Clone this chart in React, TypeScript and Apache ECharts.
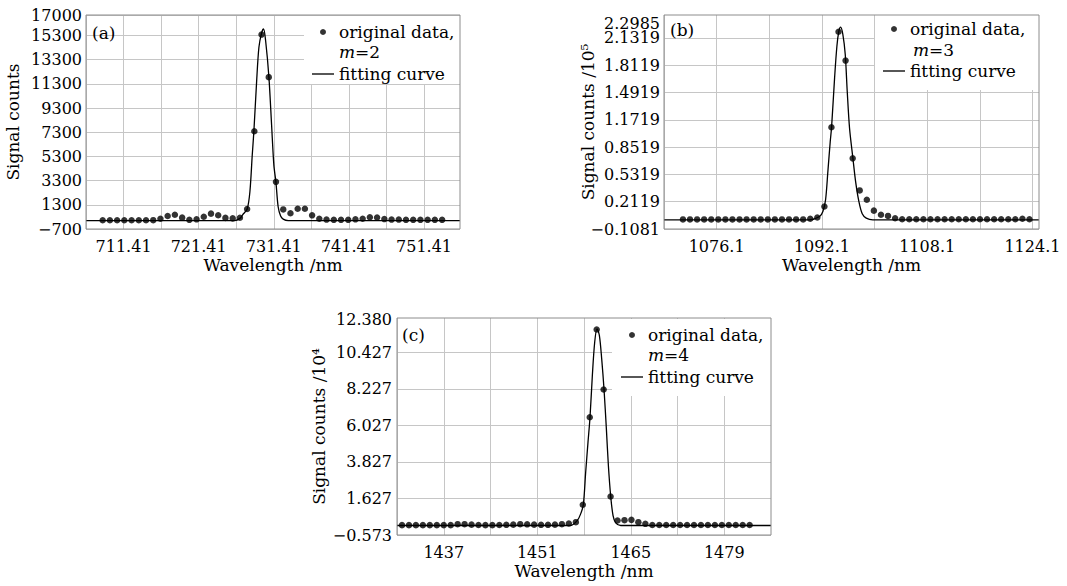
import React, { useEffect, useRef } from 'react';
import * as echarts from 'echarts';

const FONT = 'DejaVu Serif';

// ---------- Panel (a): m = 2 ----------
const waveA = [708.63, 709.59, 710.55, 711.51, 712.48, 713.44, 714.40, 715.36, 716.32, 717.28, 718.24, 719.21, 720.17, 721.13, 722.09, 723.05, 724.01, 724.97, 725.94, 726.90, 727.86, 728.82, 729.78, 730.74, 731.70, 732.67, 733.63, 734.59, 735.55, 736.51, 737.47, 738.43, 739.40, 740.36, 741.32, 742.28, 743.24, 744.20, 745.16, 746.13, 747.09, 748.05, 749.01, 749.97, 750.93, 751.89, 752.85, 753.82];
const countsA = [20, 20, 20, 20, 20, 20, 20, 30, 150, 380, 480, 240, 60, 100, 310, 570, 440, 220, 180, 230, 950, 7380, 15380, 11860, 3200, 920, 600, 970, 970, 430, 150, 80, 60, 60, 60, 100, 150, 270, 250, 120, 80, 80, 60, 60, 60, 60, 60, 60];
const fitWaveA = [706.41, 726.2, 726.9, 727.34, 727.87, 728.23, 728.54, 728.76, 729.12, 729.43, 729.79, 730.05, 730.32, 730.76, 731.12, 731.42, 731.69, 731.99, 732.32, 732.66, 733.33, 756.2];
const fitCountsA = [0, 0, 180, 540, 950, 2380, 5400, 7380, 11450, 14330, 15520, 15850, 14890, 11860, 7880, 4580, 3200, 1140, 370, 120, 0, 0];
const xTicksA = [706.41, 711.41, 716.41, 721.41, 726.41, 731.41, 736.41, 741.41, 746.41, 751.41];
const xLabelsA = [711.41, 721.41, 731.41, 741.41, 751.41];
const yTicksA = [-700, 1300, 3300, 5300, 7300, 9300, 11300, 13300, 15300, 17000];
const yLabelsA = [-700, 1300, 3300, 5300, 7300, 9300, 11300, 13300, 15300, 17000];

// ---------- Panel (b): m = 3 (x10^5) ----------
const waveB = [1070.98, 1072.05, 1073.13, 1074.20, 1075.28, 1076.35, 1077.43, 1078.50, 1079.58, 1080.65, 1081.73, 1082.80, 1083.88, 1084.95, 1086.03, 1087.10, 1088.18, 1089.25, 1090.33, 1091.40, 1092.48, 1093.55, 1094.63, 1095.70, 1096.78, 1097.85, 1098.93, 1100.00, 1101.08, 1102.15, 1103.23, 1104.30, 1105.38, 1106.45, 1107.53, 1108.60, 1109.68, 1110.75, 1111.83, 1112.90, 1113.98, 1115.05, 1116.13, 1117.20, 1118.28, 1119.35, 1120.43, 1121.50, 1122.58, 1123.65];
const countsB = [0.004, 0.004, 0.004, 0.004, 0.004, 0.004, 0.004, 0.004, 0.004, 0.004, 0.004, 0.004, 0.004, 0.004, 0.004, 0.004, 0.004, 0.004, 0.012, 0.027, 0.156, 1.085, 2.203, 1.866, 0.72, 0.344, 0.235, 0.107, 0.059, 0.045, 0.018, 0.006, 0.006, 0.006, 0.006, 0.006, 0.006, 0.006, 0.006, 0.006, 0.006, 0.006, 0.006, 0.006, 0.006, 0.006, 0.006, 0.006, 0.012, 0.006];
const fitWaveB = [1068.1, 1090.2, 1091.75, 1092.25, 1092.66, 1093.01, 1093.37, 1093.57, 1094.03, 1094.38, 1094.68, 1094.94, 1095.29, 1095.65, 1095.95, 1096.30, 1096.81, 1097.22, 1097.72, 1098.23, 1098.84, 1099.85, 1125.1];
const fitCountsB = [0, 0, 0.039, 0.098, 0.235, 0.567, 0.919, 1.083, 1.663, 2.034, 2.21, 2.257, 2.171, 1.937, 1.506, 1.076, 0.724, 0.45, 0.215, 0.07, 0.02, 0, 0];
const xTicksB = [1068.1, 1076.1, 1084.1, 1092.1, 1100.1, 1108.1, 1116.1, 1124.1];
const xLabelsB = [1076.1, 1092.1, 1108.1, 1124.1];
const yTicksB = [-0.1081, 0.2119, 0.5319, 0.8519, 1.1719, 1.4919, 1.8119, 2.1319];
const yLabelsB = [-0.1081, 0.2119, 0.5319, 0.8519, 1.1719, 1.4919, 1.8119, 2.1319];
const yTopLabelB = [2.2985];

// ---------- Panel (c): m = 4 (x10^4) ----------
const waveC = [1430.75, 1431.79, 1432.83, 1433.87, 1434.91, 1435.96, 1437.00, 1438.04, 1439.08, 1440.12, 1441.16, 1442.20, 1443.24, 1444.28, 1445.32, 1446.37, 1447.41, 1448.45, 1449.49, 1450.53, 1451.57, 1452.61, 1453.65, 1454.69, 1455.73, 1456.78, 1457.82, 1458.86, 1459.90, 1460.94, 1461.98, 1463.02, 1464.06, 1465.10, 1466.14, 1467.19, 1468.23, 1469.27, 1470.31, 1471.35, 1472.39, 1473.43, 1474.47, 1475.51, 1476.55, 1477.60, 1478.64, 1479.68, 1480.72, 1481.76, 1482.80];
const countsC = [0.02, 0.02, 0.02, 0.02, 0.02, 0.02, 0.02, 0.02, 0.08, 0.08, 0.05, 0.03, 0.02, 0.02, 0.03, 0.04, 0.05, 0.08, 0.07, 0.05, 0.04, 0.04, 0.05, 0.08, 0.12, 0.20, 1.25, 6.52, 11.81, 8.19, 1.75, 0.30, 0.32, 0.34, 0.20, 0.10, 0.03, 0.03, 0.03, 0.03, 0.03, 0.03, 0.03, 0.03, 0.03, 0.03, 0.03, 0.03, 0.03, 0.03, 0.03];
const fitWaveC = [1430, 1456.0, 1457.0, 1457.5, 1457.9, 1458.25, 1458.6, 1458.9, 1459.25, 1459.6, 1459.95, 1460.3, 1460.65, 1461.0, 1461.35, 1461.65, 1462.0, 1462.35, 1462.75, 1463.5, 1486];
const fitCountsC = [0, 0, 0.30, 0.70, 1.25, 3.21, 5.02, 6.52, 9.04, 11.04, 11.85, 11.45, 10.04, 8.19, 5.82, 3.61, 1.75, 0.60, 0.16, 0, 0];
const xTicksC = [1430, 1437, 1444, 1451, 1458, 1465, 1472, 1479];
const xLabelsC = [1437, 1451, 1465, 1479];
const yTicksC = [-0.573, 1.627, 3.827, 6.027, 8.227, 10.427];
const yLabelsC = [-0.573, 1.627, 3.827, 6.027, 8.227, 10.427, 12.38];

const pairs = (xs: number[], ys: number[]) => xs.map((x, i) => [x, ys[i]]);
const minus = (v: number, digits: number) => (v < -1e-9 ? '\u2212' : '') + Math.abs(v).toFixed(digits);

const LINE_ICON = 'path://M0,0H20V1.2H0Z';

const xAxisBase = (gridIndex: number, min: number, max: number, ticks: number[], labels: number[], digits: number) => ({
  type: 'value',
  gridIndex,
  min,
  max,
  axisLine: { show: false },
  axisTick: { show: false, customValues: ticks },
  splitLine: { show: true, lineStyle: { color: '#c6c6c6', width: 1 } },
  axisLabel: {
    customValues: labels,
    margin: 9,
    fontFamily: FONT,
    fontSize: 16,
    color: '#000',
    formatter: (v: number) => minus(v, digits),
  },
  name: 'Wavelength /nm',
  nameLocation: 'middle',
  nameGap: 27,
  nameMoveOverlap: false,
  nameTextStyle: { fontFamily: FONT, fontSize: 17, color: '#000' },
});

const yAxisBase = (gridIndex: number, min: number, max: number, ticks: number[], labels: number[], digits: number, name: string, nameGap: number, margin: number) => ({
  type: 'value',
  gridIndex,
  position: 'left',
  min,
  max,
  axisLine: { show: false },
  axisTick: { show: false, customValues: ticks },
  splitLine: { show: true, lineStyle: { color: '#c6c6c6', width: 1 } },
  axisLabel: {
    customValues: labels,
    margin,
    fontFamily: FONT,
    fontSize: 16,
    color: '#000',
    formatter: (v: number) => minus(v, digits),
  },
  name,
  nameLocation: 'middle',
  nameGap,
  nameMoveOverlap: false,
  nameTextStyle: { fontFamily: FONT, fontSize: 17, color: '#000' },
});

const legendBase = (left: number, top: number, padBottom: number, padLeft: number, mLabel: string) => ({
  orient: 'vertical',
  left,
  top,
  padding: [6, 14, padBottom, padLeft],
  itemGap: 22,
  itemWidth: 22,
  itemHeight: 6,
  backgroundColor: '#ffffff',
  z: 1,
  selectedMode: false,
  itemStyle: { borderWidth: 0 },
  data: [
    { name: 'original data, ' + mLabel, icon: 'circle' },
    { name: 'fitting curve', icon: LINE_ICON },
  ],
  formatter: (name: string) => (name.indexOf('original') === 0 ? 'original data,' : name),
  textStyle: { fontFamily: FONT, fontSize: 17, color: '#000', lineHeight: 20 },
});

const scatterSeries = (name: string, idx: number, xs: number[], ys: number[]) => ({
  type: 'scatter',
  name,
  xAxisIndex: idx,
  yAxisIndex: idx,
  data: pairs(xs, ys),
  symbol: 'circle',
  symbolSize: 6.5,
  itemStyle: { color: '#000' },
  z: 3,
});

const lineSeries = (idx: number, xs: number[], ys: number[]) => ({
  type: 'line',
  name: 'fitting curve',
  xAxisIndex: idx,
  yAxisIndex: idx,
  data: pairs(xs, ys),
  symbol: 'none',
  showSymbol: false,
  smooth: 0.3,
  lineStyle: { color: '#000', width: 1.3 },
  itemStyle: { color: '#000' },
  z: 2,
});

const textEl = (x: number, y: number, text: string, rich?: boolean) => ({
  type: 'text',
  x,
  y,
  z: 10,
  style: {
    text,
    fontFamily: FONT,
    fontSize: 17,
    fill: '#000',
    verticalAlign: 'middle',
    ...(rich ? { rich: { i: { fontFamily: FONT, fontSize: 17, fontStyle: 'italic', fill: '#000' } } } : {}),
  },
});

const gridBase = (left: number, top: number, width: number, height: number) => ({
  left,
  top,
  width,
  height,
  show: true,
  backgroundColor: 'transparent',
  borderColor: '#8c8c8c',
  borderWidth: 1,
  z: 5,
});

export default function App() {
  const ref = useRef<HTMLDivElement>(null);

  useEffect(() => {
    if (!ref.current) return;
    const chart = echarts.init(ref.current, undefined, { renderer: 'svg' });
    chart.setOption({
      animation: false,
      backgroundColor: '#ffffff',
      grid: [
        gridBase(86, 15, 374, 214),
        gridBase(664, 15, 375, 214),
        gridBase(397, 318, 374, 217),
      ],
      xAxis: [
        xAxisBase(0, 706.41, 756.2, xTicksA, xLabelsA, 2),
        xAxisBase(1, 1068.1, 1125.1, xTicksB, xLabelsB, 1),
        xAxisBase(2, 1430, 1486, xTicksC, xLabelsC, 0),
      ],
      yAxis: [
        yAxisBase(0, -700, 17000, yTicksA, yLabelsA, 0, 'Signal counts', 65, 4),
        yAxisBase(1, -0.1081, 2.4, yTicksB, yLabelsB, 4, 'Signal counts /10\u2075', 68, 4),
        yAxisBase(2, -0.573, 12.5, yTicksC, yLabelsC, 3, 'Signal counts /10\u2074', 70, 5),
        {
          type: 'value',
          gridIndex: 1,
          position: 'left',
          offset: 0,
          min: -0.1081,
          max: 2.4,
          axisLine: { show: false },
          axisTick: { show: false, customValues: yTopLabelB },
          splitLine: { show: false },
          axisLabel: {
            customValues: yTopLabelB,
            margin: 4,
            padding: [0, 0, 11, 0],
            fontFamily: FONT,
            fontSize: 16,
            color: '#000',
            formatter: (v: number) => minus(v, 4),
          },
        },
      ],
      legend: [
        legendBase(304, 16, 0, 8, 'm=2'),
        legendBase(875, 13, 9, 8, 'm=3'),
        legendBase(612, 319, 9, 9, 'm=4'),
      ],
      graphic: {
        elements: [
          textEl(92, 33, '(a)'),
          textEl(670, 30, '(b)'),
          textEl(402, 335, '(c)'),
          textEl(339, 52, '{i|m}=2', true),
          textEl(913, 50, '{i|m}=3', true),
          textEl(648, 355, '{i|m}=4', true),
        ],
      },
      series: [
        lineSeries(0, fitWaveA, fitCountsA),
        scatterSeries('original data, m=2', 0, waveA, countsA),
        lineSeries(1, fitWaveB, fitCountsB),
        scatterSeries('original data, m=3', 1, waveB, countsB),
        lineSeries(2, fitWaveC, fitCountsC),
        scatterSeries('original data, m=4', 2, waveC, countsC),
      ],
    });
    return () => chart.dispose();
  }, []);

  return (
    <div
      ref={ref}
      style={{ position: 'fixed', left: 0, top: 0, width: 1067, height: 586, background: '#fff' }}
    />
  );
}
